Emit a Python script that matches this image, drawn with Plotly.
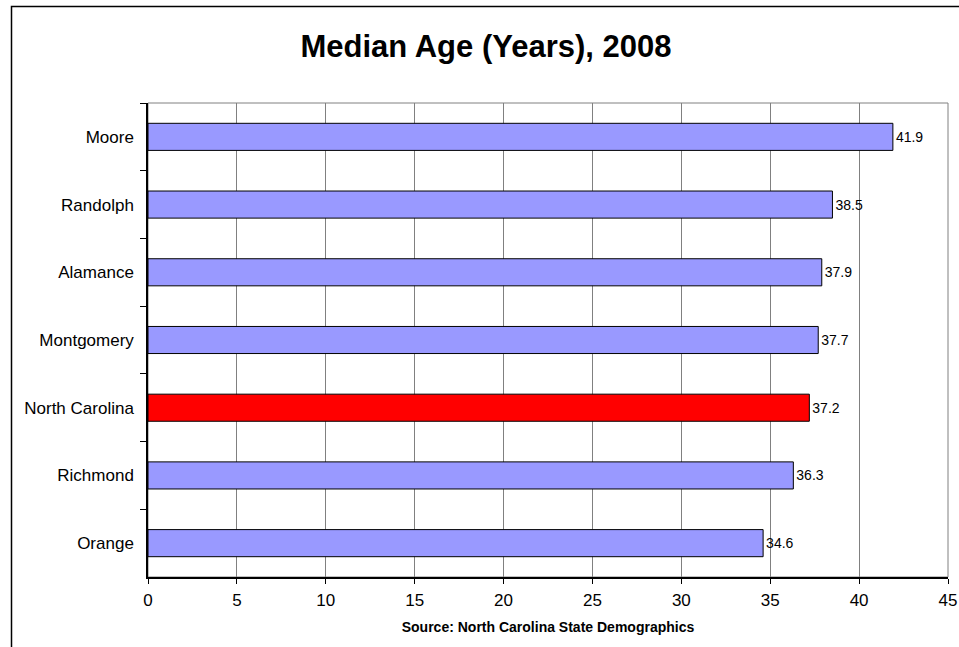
import plotly.graph_objects as go

# Median age by area, listed top to bottom
areas = ["Moore", "Randolph", "Alamance", "Montgomery", "North Carolina", "Richmond", "Orange"]
median_age = [41.9, 38.5, 37.9, 37.7, 37.2, 36.3, 34.6]
x_ticks = [0, 5, 10, 15, 20, 25, 30, 35, 40, 45]

title_text = "Median Age (Years), 2008"
source_text = "Source: North Carolina State Demographics"

COUNTY_COLOR = "#9999FF"
STATE_COLOR = "#FF0000"
bar_colors = [STATE_COLOR if a == "North Carolina" else COUNTY_COLOR for a in areas]

FONT = "Arial, 'Liberation Sans', sans-serif"

W, H = 959, 647
L, R, T, B = 148, 11, 103, 70
plot_w = W - L - R
plot_h = H - T - B

fig = go.Figure(
    go.Bar(
        x=median_age,
        y=areas,
        orientation="h",
        marker=dict(color=bar_colors, line=dict(color="#000000", width=1)),
        text=[f"{v:.1f}" for v in median_age],
        textposition="outside",
        textfont=dict(family=FONT, size=14, color="#000000"),
        cliponaxis=False,
        width=0.4,
        hoverinfo="x+y",
    )
)


def px_to_paper_x(px):
    return (px - L) / plot_w


def px_to_paper_y(py):
    return (H - B - py) / plot_h


shapes = [
    # outer chart frame (runs off the right and bottom edges)
    dict(
        type="rect", xref="paper", yref="paper",
        x0=px_to_paper_x(11.5), x1=px_to_paper_x(980),
        y0=px_to_paper_y(700), y1=px_to_paper_y(6.5),
        line=dict(color="#000000", width=1.5), fillcolor="rgba(0,0,0,0)",
        layer="below",
    ),
    # plot area border
    dict(
        type="rect", xref="paper", yref="paper",
        x0=0, x1=1, y0=0, y1=1,
        line=dict(color="#808080", width=1), fillcolor="rgba(0,0,0,0)",
        layer="below",
    ),
]

fig.update_layout(
    width=W,
    height=H,
    margin=dict(l=L, r=R, t=T, b=B, pad=0, autoexpand=False),
    paper_bgcolor="#FFFFFF",
    plot_bgcolor="#FFFFFF",
    showlegend=False,
    font=dict(family=FONT, color="#000000"),
    title=dict(
        text=f"<b>{title_text}</b>",
        font=dict(family=FONT, size=31, color="#000000"),
        xref="container", x=486 / W, xanchor="center",
        yref="container", y=1 - 46 / H, yanchor="middle",
    ),
    shapes=shapes,
    xaxis=dict(
        range=[0, 45],
        tickvals=x_ticks,
        ticktext=[str(t) for t in x_ticks],
        showgrid=True,
        gridcolor="#808080",
        gridwidth=1,
        zeroline=False,
        showline=True,
        linecolor="#000000",
        linewidth=1.5,
        ticks="outside",
        ticklen=5,
        tickcolor="#000000",
        tickfont=dict(family=FONT, size=17, color="#000000"),
        ticklabelstandoff=2,
        automargin=False,
        title=dict(
            text=f"<b>{source_text}</b>",
            font=dict(family=FONT, size=14, color="#000000"),
            standoff=13,
        ),
        fixedrange=True,
    ),
    yaxis=dict(
        categoryorder="array",
        categoryarray=areas,
        autorange="reversed",
        showgrid=False,
        zeroline=False,
        showline=True,
        linecolor="#000000",
        linewidth=1.5,
        ticks="outside",
        ticklen=6,
        tickcolor="#000000",
        tickson="boundaries",
        tickfont=dict(family=FONT, size=17, color="#000000"),
        ticklabelstandoff=9,
        automargin=False,
        fixedrange=True,
    ),
)

fig.write_html("out.html")
